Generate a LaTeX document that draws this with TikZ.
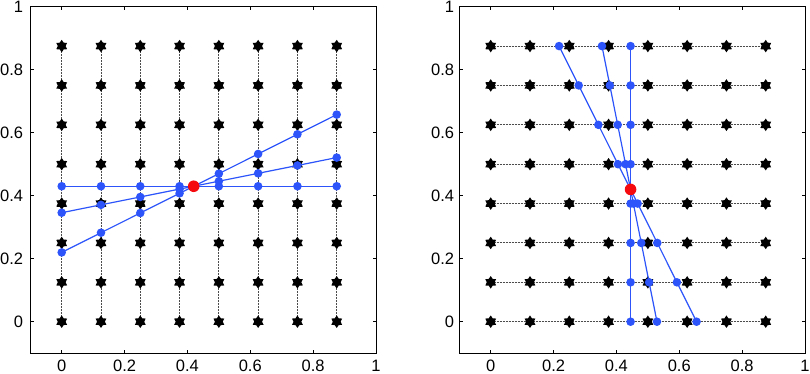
\documentclass[tikz,border=0pt]{standalone}
\usepackage{fontspec}
\setmainfont{Liberation Sans}
\usetikzlibrary{shapes.geometric}
\definecolor{pblue}{RGB}{44,84,250}
\definecolor{pred}{RGB}{245,10,15}
\tikzset{
  axisline/.style={line width=1pt, black},
  ticklab/.style={inner sep=0pt, font=\fontsize{16.5}{18}\selectfont},
  dotline/.style={black!70, line width=0.9pt, dash pattern=on 0.7pt off 0.8pt},
  starm/.style={star, star points=6, star point ratio=1.6, minimum size=12.5pt, inner sep=0pt, fill=black, draw=none},
  blueline/.style={pblue, line width=1.2pt},
  bluedot/.style={fill=pblue},
  reddot/.style={fill=pred},
}
\begin{document}
\begin{tikzpicture}[x=1pt,y=1pt]
\useasboundingbox (0,0) rectangle (810,374);
% ---------- left panel ----------
\begin{scope}[shift={(61.7pt,52.3pt)},x=314.3pt,y=315pt]
  \draw[axisline] (-0.1,-0.1) rectangle (1,1);
  \foreach \t in {0,0.2,0.4,0.6,0.8,1} {
    \draw[axisline] (\t,-0.1) -- ++(0,3.5pt);
    \draw[axisline] (\t,1) -- ++(0,-3.5pt);
    \draw[axisline] (-0.1,\t) -- ++(3.5pt,0);
    \draw[axisline] (1,\t) -- ++(-3.5pt,0);
    \node[ticklab,anchor=north] (lx\t) at ([yshift=-6.5pt]\t,-0.1) {\t};
    \node[ticklab,anchor=east] (ly\t) at ([xshift=-7pt]-0.1,\t) {\t};
  }
  \foreach \i in {0,...,7} {
    \draw[dotline] (\i/8,0) -- (\i/8,0.875);
  }
  \foreach \i in {0,...,7} {
    \foreach \j in {0,...,7} {
      \node[starm] (ls\i\j) at (\i/8,\j/8) {};
    }
  }
  \foreach \s in {0,0.2,0.5} {
    \draw[blueline] (0,{0.43+\s*(0-0.42)}) -- (0.875,{0.43+\s*(0.875-0.42)});
    \foreach \i in {0,...,7} {
      \fill[bluedot] (\i/8,{0.43+\s*(\i/8-0.42)}) circle[radius=4.3pt];
    }
  }
  \fill[reddot] (0.42,0.43) circle[radius=5.8pt];
\end{scope}
% ---------- right panel ----------
\begin{scope}[shift={(490.7pt,52.3pt)},x=314.3pt,y=315pt]
  \draw[axisline] (-0.1,-0.1) rectangle (1,1);
  \foreach \t in {0,0.2,0.4,0.6,0.8,1} {
    \draw[axisline] (\t,-0.1) -- ++(0,3.5pt);
    \draw[axisline] (\t,1) -- ++(0,-3.5pt);
    \draw[axisline] (-0.1,\t) -- ++(3.5pt,0);
    \draw[axisline] (1,\t) -- ++(-3.5pt,0);
    \node[ticklab,anchor=north] (rx\t) at ([yshift=-6.5pt]\t,-0.1) {\t};
    \node[ticklab,anchor=east] (ry\t) at ([xshift=-5pt]-0.1,\t) {\t};
  }
  \foreach \j in {0,...,7} {
    \draw[dotline] (0,\j/8) -- (0.875,\j/8);
  }
  \foreach \i in {0,...,7} {
    \foreach \j in {0,...,7} {
      \node[starm] (rs\i\j) at (\i/8,\j/8) {};
    }
  }
  \foreach \s in {0,0.2,0.5} {
    \draw[blueline] ({0.445-\s*(0-0.42)},0) -- ({0.445-\s*(0.875-0.42)},0.875);
    \foreach \j in {0,...,7} {
      \fill[bluedot] ({0.445-\s*(\j/8-0.42)},\j/8) circle[radius=4.3pt];
    }
  }
  \fill[reddot] (0.445,0.42) circle[radius=5.8pt];
\end{scope}
\end{tikzpicture}
\end{document}
